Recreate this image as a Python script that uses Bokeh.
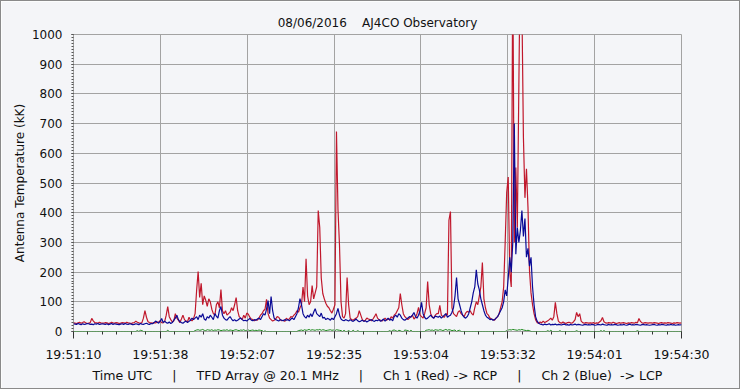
import numpy as np
from bokeh.plotting import figure
from bokeh.models import FixedTicker, Range1d
from bokeh.embed import file_html
from bokeh.resources import INLINE

NB = "\u00a0"
title_text = "08/06/2016" + NB * 4 + "AJ4CO Observatory"
y_label = "Antenna Temperature (kK)"
x_label = ("Time UTC" + NB * 5 + "|" + NB * 5 + "TFD Array @ 20.1 MHz" + NB * 5 + "|" + NB * 5 +
           "Ch 1 (Red) -> RCP" + NB * 5 + "|" + NB * 5 + "Ch 2 (Blue)" + NB * 2 + "-> LCP")
x_tick_labels = ["19:51:10", "19:51:38", "19:52:07", "19:52:35",
                 "19:53:04", "19:53:32", "19:54:01", "19:54:30"]
span_seconds = 200.0
sample_step = 0.5
y_ticks = [0, 100, 200, 300, 400, 500, 600, 700, 800, 900, 1000]

# Ch 1 (Red, RCP), samples every 0.5 s
red = [
    30, 28, 27, 29, 31, 28, 30, 33, 29, 27, 28, 30, 44, 36, 30, 29, 28, 31, 29, 28,
    28, 30, 29, 27, 28, 31, 29, 28, 30, 29, 27, 28, 30, 29, 28, 31, 29, 28, 27, 29,
    30, 35, 31, 29, 28, 30, 45, 70, 48, 33, 30, 29, 28, 30, 29, 31, 32, 36, 30, 29,
    34, 55, 84, 50, 40, 32, 36, 60, 45, 38, 30, 42, 55, 40, 35, 33, 48, 38, 36, 44,
    60, 138, 202, 115, 162, 90, 120, 105, 85, 110, 100, 75, 60, 55, 90, 100, 80, 141, 70, 60,
    70, 55, 60, 65, 80, 70, 90, 114, 70, 50, 45, 40, 55, 45, 62, 58, 48, 42, 40, 36,
    40, 38, 45, 55, 60, 70, 75, 108, 60, 45, 40, 35, 38, 42, 50, 48, 40, 36, 38, 34,
    45, 40, 42, 50, 48, 55, 60, 70, 65, 80, 90, 150, 100, 245, 120, 90, 100, 155, 110, 130,
    150, 407, 350, 180, 128, 110, 95, 85, 80, 70, 62, 75, 90, 673, 411, 290, 100, 50, 45, 60,
    182, 90, 45, 40, 38, 42, 45, 50, 70, 55, 40, 35, 38, 45, 42, 40, 36, 42, 50, 60,
    45, 40, 38, 35, 40, 45, 38, 42, 40, 50, 45, 55, 60, 70, 80, 128, 90, 60, 50, 45,
    40, 45, 50, 55, 42, 48, 60, 81, 55, 50, 45, 60, 80, 168, 90, 60, 50, 45, 55, 60,
    60, 88, 55, 50, 48, 60, 55, 374, 404, 80, 60, 55, 50, 65, 70, 60, 55, 50, 62, 68,
    65, 70, 60, 55, 80, 100, 90, 120, 150, 232, 110, 80, 60, 55, 45, 42, 40, 38, 45, 50,
    60, 80, 100, 150, 300, 468, 520, 200, 150, 1250, 300, 552, 350, 828, 1300, 1100, 653, 450, 548, 418,
    205, 130, 90, 60, 40, 30, 28, 32, 29, 35, 30, 33, 36, 40, 45, 38, 50, 98, 60, 35,
    30, 28, 32, 29, 27, 30, 31, 29, 28, 33, 40, 64, 50, 60, 35, 30, 28, 30, 29, 28,
    29, 28, 30, 27, 29, 28, 32, 36, 47, 33, 29, 28, 30, 29, 28, 31, 29, 27, 28, 30,
    28, 29, 30, 28, 27, 29, 28, 30, 29, 28, 31, 29, 44, 34, 29, 28, 30, 29, 28, 29,
    29, 28, 30, 29, 28, 27, 29, 30, 28, 29, 28, 30, 29, 28, 27, 29, 28, 30, 29, 28, 29,
]

# Ch 2 (Blue, LCP)
blue = [
    26, 25, 24, 27, 25, 23, 26, 24, 25, 27, 26, 24, 25, 23, 26, 25, 27, 24, 25, 26,
    25, 24, 26, 23, 25, 27, 24, 26, 25, 24, 23, 25, 26, 24, 27, 25, 24, 26, 25, 23,
    24, 26, 25, 23, 27, 25, 24, 26, 28, 25, 24, 27, 26, 30, 35, 32, 28, 34, 44, 30,
    35, 30, 28, 32, 27, 30, 38, 45, 55, 40, 33, 30, 28, 32, 35, 30, 34, 38, 45, 40,
    45, 50, 40, 55, 48, 60, 42, 38, 50, 45, 55, 48, 40, 60, 52, 45, 70, 84, 55, 45,
    40, 38, 45, 50, 42, 36, 40, 35, 38, 42, 45, 40, 36, 38, 35, 40, 44, 38, 36, 40,
    38, 42, 45, 40, 50, 60, 55, 75, 104, 60, 118, 70, 45, 40, 38, 35, 40, 38, 36, 40,
    38, 40, 36, 42, 45, 40, 50, 60, 80, 111, 90, 60, 50, 45, 55, 48, 60, 50, 65, 77,
    60, 55, 50, 62, 45, 48, 40, 44, 42, 38, 45, 40, 50, 60, 78, 55, 42, 38, 36, 40,
    38, 35, 40, 36, 34, 38, 42, 36, 33, 35, 38, 34, 36, 32, 35, 38, 40, 36, 34, 38,
    36, 40, 34, 38, 42, 35, 40, 45, 38, 42, 36, 50, 55, 48, 60, 55, 45, 40, 38, 42,
    45, 50, 48, 55, 64, 50, 45, 55, 70, 98, 60, 48, 42, 45, 50, 55, 48, 45, 52, 50,
    48, 52, 45, 50, 55, 60, 48, 52, 55, 65, 80, 120, 182, 110, 90, 70, 55, 48, 45, 50,
    60, 80, 100, 130, 150, 208, 160, 140, 110, 90, 70, 55, 48, 45, 40, 42, 38, 40, 45, 50,
    60, 70, 80, 100, 140, 120, 180, 250, 200, 300, 700, 260, 350, 300, 340, 407, 320, 380, 250, 280,
    220, 250, 150, 90, 50, 35, 28, 25, 24, 22, 25, 23, 24, 26, 22, 24, 23, 25, 22, 24,
    23, 22, 24, 25, 22, 23, 21, 24, 22, 23, 25, 22, 24, 23, 22, 21, 23, 24, 22, 23,
    22, 24, 23, 21, 22, 24, 23, 22, 25, 23, 22, 21, 24, 22, 23, 22, 24, 23, 21, 22,
    23, 22, 24, 22, 21, 23, 25, 22, 23, 22, 24, 23, 22, 21, 23, 24, 22, 23, 22, 21,
    22, 23, 24, 22, 21, 23, 22, 24, 23, 22, 21, 23, 22, 24, 22, 23, 21, 22, 23, 22, 23,
]

# third trace (green), near zero
green = [
    0, 0, 0, 0, 0, 0, 0, 0, 0, 0, 0, 0, 0, 0, 0, 0, 0, 0, 0, 0,
    0, 0, 0, 0, 0, 0, 0, 0, 0, 0, 0, 0, 0, 0, 0, 0, 0, 0, 0, 0,
    0, 0, 3, 0, 4, 3, 0, 0, 0, 0, 0, 0, 0, 0, 0, 0, 0, 0, 0, 0,
    0, 0, 4, 0, 0, 0, 0, 0, 0, 0, 0, 0, 0, 0, 0, 0, 0, 0, 0, 0,
    3, 5, 6, 4, 5, 7, 4, 3, 6, 5, 4, 6, 3, 5, 4, 6, 5, 3, 4, 5,
    4, 6, 3, 5, 4, 3, 5, 6, 4, 3, 5, 4, 6, 3, 4, 5, 3, 4, 5, 3,
    4, 3, 5, 4, 3, 0, 2, 0, 0, 0, 0, 0, 0, 0, 0, 0, 0, 0, 0, 0,
    0, 0, 0, 0, 0, 0, 0, 0, 3, 4, 5, 3, 6, 4, 5, 7, 4, 6, 5, 4,
    6, 5, 7, 4, 6, 5, 3, 4, 5, 6, 4, 5, 3, 6, 5, 4, 3, 0, 4, 0,
    0, 3, 0, 0, 4, 0, 0, 3, 0, 0, 0, 0, 0, 0, 0, 0, 0, 0, 0, 0,
    0, 0, 0, 0, 0, 0, 0, 0, 3, 0, 4, 5, 3, 0, 4, 3, 0, 0, 5, 4,
    3, 0, 4, 0, 0, 0, 0, 0, 0, 0, 0, 0, 4, 5, 6, 4, 5, 3, 6, 5,
    4, 6, 5, 3, 5, 7, 4, 6, 5, 3, 4, 5, 0, 3, 4, 0, 0, 0, 0, 0,
    0, 0, 0, 0, 0, 0, 0, 0, 0, 0, 0, 0, 0, 0, 0, 0, 0, 0, 0, 0,
    0, 0, 0, 0, 0, 3, 5, 6, 5, 7, 6, 5, 4, 6, 5, 7, 5, 4, 3, 4,
    3, 0, 0, 0, 0, 0, 0, 0, 0, 0, 0, 0, 3, 0, 4, 0, 0, 0, 0, 0,
    3, 0, 0, 0, 0, 0, 0, 0, 0, 0, 0, 3, 0, 0, 0, 0, 0, 0, 0, 0,
    0, 0, 0, 0, 0, 0, 0, 3, 0, 3, 0, 0, 0, 0, 0, 0, 0, 0, 0, 0,
    0, 0, 0, 0, 0, 0, 0, 0, 0, 0, 0, 3, 0, 0, 0, 0, 0, 0, 0, 0,
    0, 0, 0, 0, 0, 0, 0, 0, 0, 0, 0, 0, 0, 0, 0, 0, 0, 0, 0, 0, 0,
]

n = min(len(red), len(blue), len(green))
t = np.arange(n) * sample_step

BG = "#F4F5F8"
GRID = "#A3A3A3"
FONT = "DejaVu Sans"

p = figure(frame_width=608, frame_height=297, output_backend="svg", toolbar_location=None,
           x_range=Range1d(0, span_seconds), y_range=Range1d(0, 1000),
           min_border_left=72, min_border_right=58, min_border_top=33, min_border_bottom=57)
p.styles = {"border": "1px solid #8a8a8a"}
p.background_fill_color = BG
p.border_fill_color = BG
p.outline_line_color = GRID
p.outline_line_width = 1

p.title.text = title_text
p.title.align = "center"
p.title.text_font = FONT
p.title.text_font_size = "12px"
p.title.text_font_style = "normal"
p.title.text_color = "#111111"
p.title.standoff = 9

nmaj = len(x_tick_labels) - 1
x_major = [i * span_seconds / nmaj for i in range(nmaj + 1)]
x_minor = [j * span_seconds / (nmaj * 6) for j in range(nmaj * 6 + 1)]
xt = FixedTicker(ticks=x_major, minor_ticks=x_minor)
yt = FixedTicker(ticks=y_ticks, minor_ticks=list(range(0, 1001, 10)))

xa = p.xaxis[0]
xa.ticker = xt
xa.major_label_overrides = {x_major[i]: x_tick_labels[i] for i in range(len(x_major))}
xa.axis_line_color = None
xa.major_tick_in = 0
xa.major_tick_out = 11
xa.major_tick_line_dash = "0 4 20"
xa.major_tick_line_color = "#333333"
xa.minor_tick_in = 0
xa.minor_tick_out = 7
xa.minor_tick_line_dash = "0 4 20"
xa.minor_tick_line_color = "#333333"
xa.major_label_standoff = 4
xa.major_label_text_font = FONT
xa.major_label_text_font_size = "12.5px"
xa.major_label_text_color = "#111111"
xa.axis_label = x_label
xa.axis_label_text_font = FONT
xa.axis_label_text_font_size = "12.6px"
xa.axis_label_text_font_style = "normal"
xa.axis_label_text_color = "#111111"
xa.axis_label_standoff = 3

ya = p.yaxis[0]
ya.ticker = yt
ya.axis_line_color = None
ya.major_tick_in = 0
ya.major_tick_out = 7
ya.major_tick_line_dash = "0 5 20"
ya.major_tick_line_color = "#333333"
ya.minor_tick_in = 0
ya.minor_tick_out = 7
ya.minor_tick_line_dash = "0 5 20"
ya.minor_tick_line_color = "#555555"
ya.major_label_standoff = 4
ya.major_label_text_font = FONT
ya.major_label_text_font_size = "12px"
ya.major_label_text_color = "#111111"
ya.axis_label = y_label
ya.axis_label_text_font = FONT
ya.axis_label_text_font_size = "12px"
ya.axis_label_text_font_style = "normal"
ya.axis_label_text_color = "#111111"
ya.axis_label_standoff = 2

p.xgrid.ticker = xt
p.ygrid.ticker = yt
for g in (p.xgrid[0], p.ygrid[0]):
    g.grid_line_color = GRID
    g.grid_line_width = 1

p.line(t, green[:n], line_color="#1F8A1F", line_width=1, level="image")
p.line(t, red[:n], line_color="#C0182C", line_width=1.2)
p.line(t, blue[:n], line_color="#0A0A96", line_width=1.2)

open("out.html", "w").write(file_html(p, INLINE))
